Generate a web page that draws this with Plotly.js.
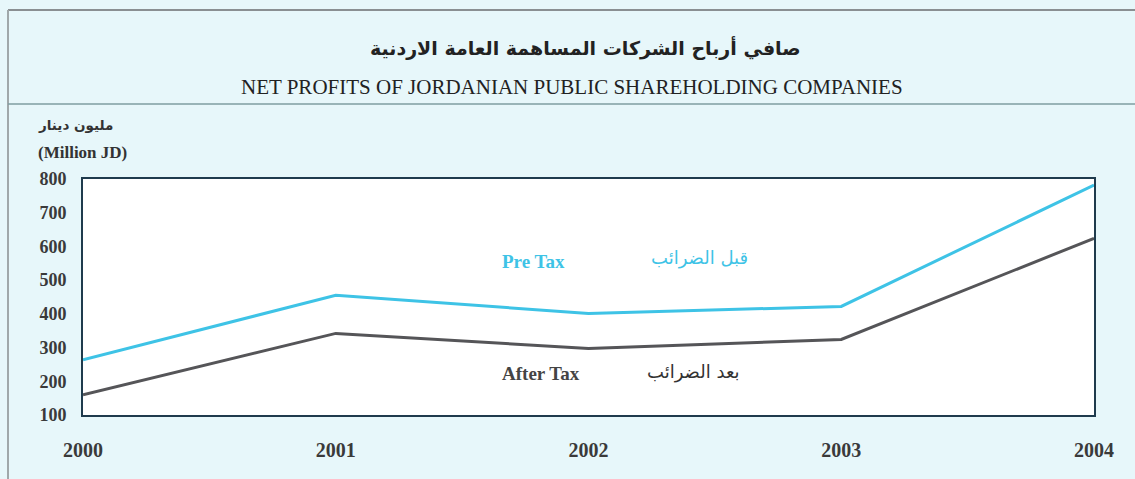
<!DOCTYPE html>
<html>
<head>
<meta charset="utf-8">
<script src="https://cdn.plot.ly/plotly-3.0.1.min.js"></script>
<style>
  html, body { margin: 0; padding: 0; background: #e7f7fa; }
  #chart { width: 1135px; height: 479px; }
</style>
</head>
<body>
<div id="chart"></div>
<script>
const years = [2000, 2001, 2002, 2003, 2004];
const preTax = [264, 455, 401, 422, 782];
const afterTax = [160, 342, 297, 324, 624];
const yTicks = [100, 200, 300, 400, 500, 600, 700, 800];

const W = 1135, H = 479;
const M = {l: 83, r: 41, t: 179, b: 64};
const pw = W - M.l - M.r, ph = H - M.t - M.b;
const px = x => (x - M.l) / pw;
const py = y => (H - M.b - y) / ph;

const serif = "Liberation Serif, Times New Roman, serif";
const arab = "DejaVu Sans, Noto Sans, sans-serif";
const cyan = "#3ec3e6";
const gray = "#555558";

const traces = [
  {x: years, y: preTax, type: 'scatter', mode: 'lines', name: 'Pre Tax',
   line: {color: cyan, width: 3}},
  {x: years, y: afterTax, type: 'scatter', mode: 'lines', name: 'After Tax',
   line: {color: gray, width: 3}}
];

const layout = {
  width: W, height: H,
  margin: M,
  paper_bgcolor: '#e7f7fa',
  plot_bgcolor: '#ffffff',
  showlegend: false,
  xaxis: {
    range: [2000, 2004], tickvals: years, ticktext: years.map(String),
    showgrid: false, zeroline: false,
    showline: true, mirror: true, linecolor: '#1f3b4d', linewidth: 2,
    ticks: 'outside', ticklen: 16, tickcolor: 'rgba(0,0,0,0)',
    tickfont: {family: serif, size: 20, color: '#3a3a3a', weight: 'bold'}
  },
  yaxis: {
    range: [100, 800], tickvals: yTicks,
    showgrid: false, zeroline: false,
    showline: true, mirror: true, linecolor: '#1f3b4d', linewidth: 2,
    ticks: 'outside', ticklen: 11, tickcolor: 'rgba(0,0,0,0)',
    tickfont: {family: serif, size: 18, color: '#3a3a3a', weight: 'bold'}
  },
  shapes: [
    {type: 'line', xref: 'paper', yref: 'paper', x0: px(8), x1: px(W), y0: py(10), y1: py(10),
     line: {color: '#8a8f92', width: 2}},
    {type: 'line', xref: 'paper', yref: 'paper', x0: px(8), x1: px(8), y0: py(10), y1: py(H),
     line: {color: '#a0a8aa', width: 2}},
    {type: 'line', xref: 'paper', yref: 'paper', x0: px(8), x1: px(W), y0: py(104), y1: py(104),
     line: {color: '#7f9ea0', width: 1.5}}
  ],
  annotations: [
    {xref: 'paper', yref: 'paper', x: px(585), y: py(48), text: 'صافي أرباح الشركات المساهمة العامة الاردنية',
     showarrow: false, font: {family: arab, size: 19, color: '#222222', weight: 'bold'}, xanchor: 'center', yanchor: 'middle'},
    {xref: 'paper', yref: 'paper', x: px(572), y: py(87), text: 'NET PROFITS OF JORDANIAN PUBLIC SHAREHOLDING COMPANIES',
     showarrow: false, font: {family: serif, size: 21, color: '#222222'}, xanchor: 'center', yanchor: 'middle'},
    {xref: 'paper', yref: 'paper', x: px(36), y: py(125), text: 'مليون دينار',
     showarrow: false, font: {family: arab, size: 13.5, color: '#333333', weight: 'bold'}, xanchor: 'left', yanchor: 'middle'},
    {xref: 'paper', yref: 'paper', x: px(36), y: py(152), text: '(Million JD)',
     showarrow: false, font: {family: serif, size: 17, color: '#333333', weight: 'bold'}, xanchor: 'left', yanchor: 'middle'},
    {xref: 'paper', yref: 'paper', x: px(533), y: py(261), text: 'Pre Tax',
     showarrow: false, font: {family: serif, size: 19, color: cyan, weight: 'bold'}, xanchor: 'center', yanchor: 'middle'},
    {xref: 'paper', yref: 'paper', x: px(699), y: py(258), text: 'قبل الضرائب',
     showarrow: false, font: {family: arab, size: 18, color: cyan}, xanchor: 'center', yanchor: 'middle'},
    {xref: 'paper', yref: 'paper', x: px(541), y: py(373), text: 'After Tax',
     showarrow: false, font: {family: serif, size: 19, color: '#444444', weight: 'bold'}, xanchor: 'center', yanchor: 'middle'},
    {xref: 'paper', yref: 'paper', x: px(693), y: py(372), text: 'بعد الضرائب',
     showarrow: false, font: {family: arab, size: 18, color: '#333333'}, xanchor: 'center', yanchor: 'middle'}
  ]
};

Plotly.newPlot('chart', traces, layout, {displayModeBar: false, staticPlot: true});
</script>
</body>
</html>
